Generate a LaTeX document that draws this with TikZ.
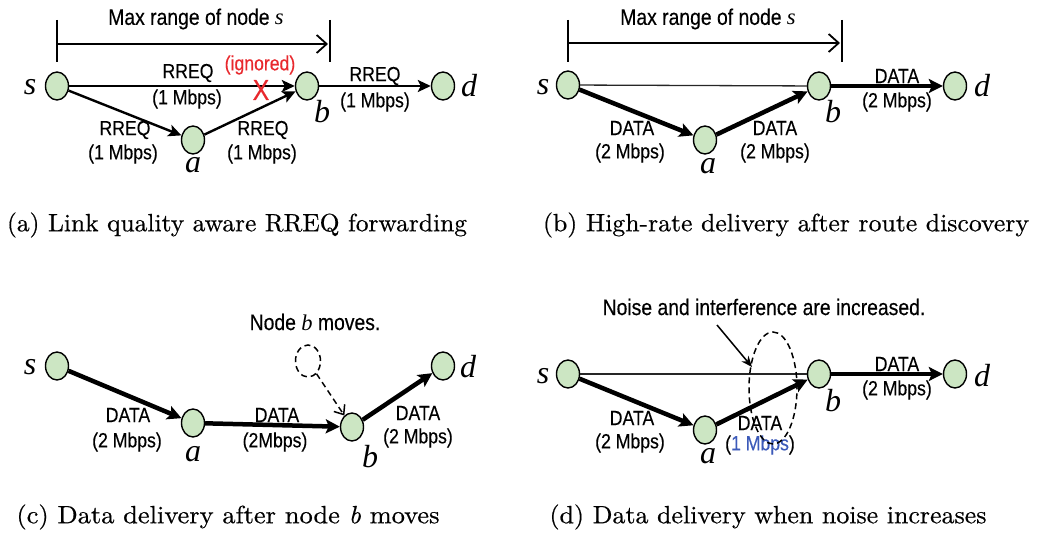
\documentclass[tikz,border=0pt]{standalone}
\usepackage{fontspec}
\usepackage{graphicx}
\usetikzlibrary{arrows.meta,shapes.geometric}
\newfontfamily\labfont[FakeStretch=0.86,FakeBold=0.3]{Liberation Sans}
\newfontfamily\varfont{Liberation Serif}
\newfontfamily\capfont{lmroman10-regular.otf}[FakeBold=0.5,ItalicFont=lmroman10-italic.otf,ItalicFeatures={FakeBold=0.5}]
\definecolor{nodegreen}{RGB}{204,230,195}
\definecolor{ignred}{RGB}{232,40,45}
\definecolor{blueText}{RGB}{60,90,185}
\newcommand{\captionfit}[2]{\resizebox{#1pt}{\height}{#2}}
\begin{document}
\begin{tikzpicture}[x=1pt,y=-1pt,
  netnode/.style={ellipse,draw,line width=1.4pt,fill=nodegreen,minimum width=23pt,minimum height=28pt,inner sep=0pt},
  varlabel/.style={font=\fontsize{32}{32}\selectfont\varfont\itshape,inner sep=0pt},
  edgetext/.style={font=\fontsize{20.5}{22}\selectfont\labfont,inner sep=0pt},
  headtext/.style={font=\fontsize{22.5}{24}\selectfont\labfont,inner sep=0pt},
  captext/.style={font=\fontsize{25}{28}\selectfont\capfont,inner sep=0pt},
  rreq/.style={line width=2.4pt,-{Stealth[length=13pt,width=12pt,inset=3pt]}},
  heavy/.style={line width=4.5pt,-{Stealth[length=14pt,width=14pt,inset=3pt]}},
  thinlink/.style={line width=1.3pt,black!85},
  rangebar/.style={line width=1.8pt,-{Straight Barb[length=10pt,width=18pt]}},
  tickline/.style={line width=1.4pt},
  dashline/.style={dashed,dash pattern=on 6pt off 4pt,line width=1.5pt}
]
\useasboundingbox (0,0) rectangle (1037,534);

%% ---------------- Panel (a) ----------------
\node[netnode] (sA) at (57,86) {};
\node[netnode] (aA) at (193,140) {};
\node[netnode] (bA) at (307,86) {};
\node[netnode] (dA) at (443,86) {};
\node[varlabel] (lsA) at (30,87) {s};
\node[varlabel] (laA) at (193,165) {a};
\node[varlabel] (lbA) at (322,112) {b};
\node[varlabel] (ldA) at (469,86) {d};
\coordinate (rA1t) at (57,20); \coordinate (rA1b) at (57,62);
\coordinate (rA2t) at (330,20); \coordinate (rA2b) at (330,62);
\coordinate (rAl) at (57,44); \coordinate (rAr) at (328,44);
\draw[tickline] (rA1t) -- (rA1b);
\draw[tickline] (rA2t) -- (rA2b);
\draw[rangebar] (rAl) -- (rAr);
\node[headtext] (hA) at (196,19) {Max range of node {\varfont\itshape s}};
\draw[rreq] (sA) -- (bA);
\draw[rreq] (bA) -- (dA);
\draw[rreq] (sA) -- (aA);
\draw[rreq] (aA) -- (bA);
\node[edgetext] (e1a) at (188,73) {RREQ};
\node[edgetext] (e1b) at (187,99) {(1 Mbps)};
\node[edgetext] (e2a) at (375,76) {RREQ};
\node[edgetext] (e2b) at (375,102) {(1 Mbps)};
\node[edgetext] (e3a) at (125,130) {RREQ};
\node[edgetext] (e3b) at (123,154) {(1 Mbps)};
\node[edgetext] (e4a) at (263,130) {RREQ};
\node[edgetext] (e4b) at (262,154) {(1 Mbps)};
\node[edgetext,text=ignred] (ign) at (260,65) {(ignored)};
\node[font=\fontsize{29}{29}\selectfont\labfont,text=ignred,inner sep=0pt] (xmark) at (261,90) {X};
\node[captext] (capA) at (237,225) {\captionfit{460}{(a) Link quality aware RREQ forwarding}};

%% ---------------- Panel (b) ----------------
\node[netnode] (sB) at (568,85) {};
\node[netnode] (aB) at (705,140) {};
\node[netnode] (bB) at (819,86) {};
\node[netnode] (dB) at (955,86) {};
\node[varlabel] (lsB) at (543,87) {s};
\node[varlabel] (laB) at (708,166) {a};
\node[varlabel] (lbB) at (833,112) {b};
\node[varlabel] (ldB) at (982,86) {d};
\coordinate (rB1t) at (568,20); \coordinate (rB1b) at (568,62);
\coordinate (rB2t) at (842,20); \coordinate (rB2b) at (842,62);
\coordinate (rBl) at (568,43); \coordinate (rBr) at (840,43);
\draw[tickline] (rB1t) -- (rB1b);
\draw[tickline] (rB2t) -- (rB2b);
\draw[rangebar] (rBl) -- (rBr);
\node[headtext] (hB) at (708,19) {Max range of node {\varfont\itshape s}};
\draw[thinlink] (sB) -- (bB);
\draw[heavy] (sB) -- (aB);
\draw[heavy] (aB) -- (bB);
\draw[heavy] (bB) -- (dB);
\node[edgetext] (f1a) at (632,128) {DATA};
\node[edgetext] (f1b) at (630,153) {(2 Mbps)};
\node[edgetext] (f2a) at (775,128) {DATA};
\node[edgetext] (f2b) at (775,153) {(2 Mbps)};
\node[edgetext] (f3a) at (897,76) {DATA};
\node[edgetext] (f3b) at (897,102) {(2 Mbps)};
\node[captext] (capB) at (786,225) {\captionfit{486}{(b) High-rate delivery after route discovery}};

%% ---------------- Panel (c) ----------------
\node[netnode] (sC) at (57,366) {};
\node[netnode] (aC) at (193,423) {};
\node[netnode] (bC) at (352,427) {};
\node[netnode] (dC) at (443,366) {};
\node[ellipse,draw,dashline,minimum width=25pt,minimum height=32pt,inner sep=0pt] (oldC) at (308,361) {};
\node[varlabel] (lsC) at (30,367) {s};
\node[varlabel] (laC) at (193,454) {a};
\node[varlabel] (lbC) at (370,457) {b};
\node[varlabel] (ldC) at (468,367) {d};
\node[headtext] (hC) at (315,322) {Node {\varfont\itshape b} moves.};
\draw[heavy] (sC) -- (aC);
\draw[heavy] (aC) -- (bC);
\draw[heavy] (bC) -- (dC);
\draw[dashline,-{Straight Barb[length=8pt,width=13pt]}] (oldC) -- (bC);
\node[edgetext] (g1a) at (128,415) {DATA};
\node[edgetext] (g1b) at (127,442) {(2 Mbps)};
\node[edgetext] (g2a) at (277,415) {DATA};
\node[edgetext] (g2b) at (275,442) {(2Mbps)};
\node[edgetext] (g3a) at (418,413) {DATA};
\node[edgetext] (g3b) at (418,438) {(2 Mbps)};
\node[captext] (capC) at (228,517) {\captionfit{423}{(c) Data delivery after node \textit{b} moves}};

%% ---------------- Panel (d) ----------------
\node[netnode] (sD) at (568,374) {};
\node[netnode] (aD) at (705,430) {};
\node[netnode] (bD) at (819,374) {};
\node[netnode] (dD) at (955,374) {};
\node[varlabel] (lsD) at (543,376) {s};
\node[varlabel] (laD) at (708,456) {a};
\node[varlabel] (lbD) at (833,401) {b};
\node[varlabel] (ldD) at (982,376) {d};
\node[headtext] (hD) at (764,307) {Noise and interference are increased.};
\draw[thinlink] (sD) -- (bD);
\draw[heavy] (sD) -- (aD);
\draw[heavy] (aD) -- (bD);
\draw[heavy] (bD) -- (dD);
\node[edgetext] (k1a) at (632,418) {DATA};
\node[edgetext] (k1b) at (630,443) {(2 Mbps)};
\node[edgetext] (k2a) at (760,423) {DATA};
\node[edgetext] (k2b) at (760,445) {(\textcolor{blueText}{1 Mbps})};
\node[edgetext] (k3a) at (897,364) {DATA};
\node[edgetext] (k3b) at (897,390) {(2 Mbps)};
\node[ellipse,draw,dashline,minimum width=48pt,minimum height=112pt,inner sep=0pt] (noiseD) at (773,388) {};
\coordinate (nStart) at (717,325);
\coordinate (nTip) at (752,367);
\draw[line width=1.5pt,-{Stealth[length=11pt,width=9pt]}] (nStart) -- (nTip);
\node[captext] (capD) at (768,517) {\captionfit{437}{(d) Data delivery when noise increases}};
\end{tikzpicture}
\end{document}
